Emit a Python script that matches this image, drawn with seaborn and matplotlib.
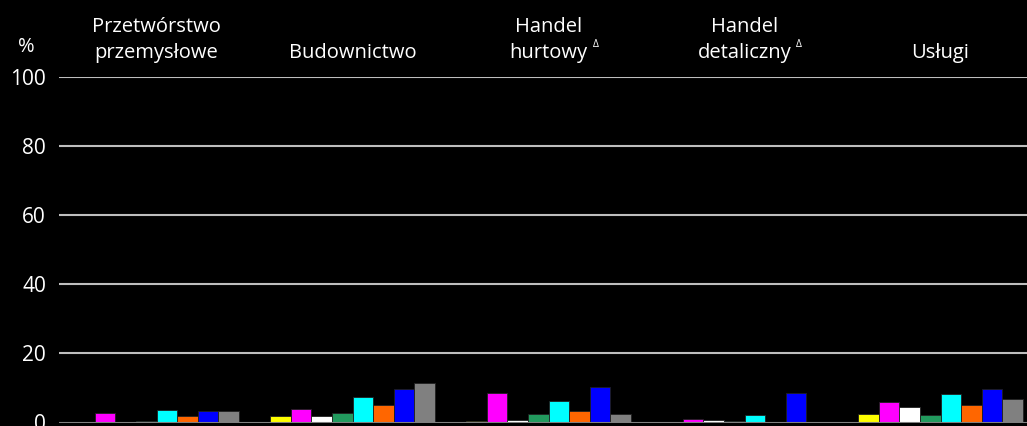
import matplotlib
matplotlib.use("Agg")
import matplotlib.pyplot as plt
import seaborn as sns
import pandas as pd

categories = ["Przetwórstwo\nprzemysłowe", "Budownictwo", "Handel\nhurtowy",
              "Handel\ndetaliczny", "Usługi"]
marked = [False, False, True, True, False]
series = ["s1", "s2", "s3", "s4", "s5", "s6", "s7", "s8"]
colors = ["#FFFF00", "#FF00FF", "#FFFFFF", "#229A5E", "#00FFFF", "#FF6600", "#0000FF", "#808080"]
values = {
    "s1": [0.0, 1.9, 0.5, 0.2, 2.5],
    "s2": [2.8, 4.0, 8.4, 1.0, 5.9],
    "s3": [0.0, 1.8, 0.6, 0.8, 4.4],
    "s4": [0.5, 2.7, 2.5, 0.3, 2.2],
    "s5": [3.5, 7.3, 6.3, 2.1, 8.2],
    "s6": [1.9, 5.0, 3.4, 0.2, 5.2],
    "s7": [3.4, 9.8, 10.3, 8.4, 9.6],
    "s8": [3.2, 11.4, 2.5, 0.0, 6.7],
}
yticks = [0, 20, 40, 60, 80, 100]

rows = []
for s in series:
    for c, v in zip(categories, values[s]):
        rows.append({"cat": c, "series": s, "val": v})
df = pd.DataFrame(rows)

sns.set_theme(style="white")
plt.rcParams["font.family"] = ["Open Sans", "DejaVu Sans"]

fig = plt.figure(figsize=(10.27, 4.26), dpi=100, facecolor="black")
ax = fig.add_axes([58.5 / 1027, 3.5 / 426, 980 / 1027, 345.5 / 426])
ax.set_facecolor("black")

sns.barplot(data=df, x="cat", y="val", hue="series", order=categories, hue_order=series,
            palette=colors, saturation=1, width=0.84, edgecolor="#202020", linewidth=0.6,
            legend=False, ax=ax, zorder=3)

ax.set_ylim(0, 100)
ax.set_xlim(-0.5, 4.5)
ax.set_yticks(yticks)
ax.set_yticklabels([str(t) for t in yticks], color="white", fontsize=15)
ax.tick_params(axis="y", length=0, pad=9)
ax.set_xticks([])
ax.set_xlabel("")
ax.set_ylabel("")
for sp in ax.spines.values():
    sp.set_visible(False)
for t in yticks[1:]:
    ax.axhline(t, color="#BEBEBE", linewidth=1.5, zorder=1)
ax.axhline(0, color="#808080", linewidth=1.5, zorder=4)

texts = []
for i, c in enumerate(categories):
    texts.append(ax.text(i, 104, c, transform=ax.transData, ha="center", va="bottom",
                         color="white", fontsize=14.5, linespacing=1.4))

fig.canvas.draw()
renderer = fig.canvas.get_renderer()
for t, m in zip(texts, marked):
    if m:
        bb = t.get_window_extent(renderer)
        x = bb.x1 + 5
        y = bb.y0 + 13
        fig.text(x / fig.bbox.width, y / fig.bbox.height, "Δ", color="white",
                 fontsize=7.5, ha="left", va="bottom")

fig.text(26 / 1027, 1 - 47 / 426, "%", color="white", fontsize=14.5, ha="center", va="center")

fig.savefig("out.png", dpi=100, facecolor="black")
